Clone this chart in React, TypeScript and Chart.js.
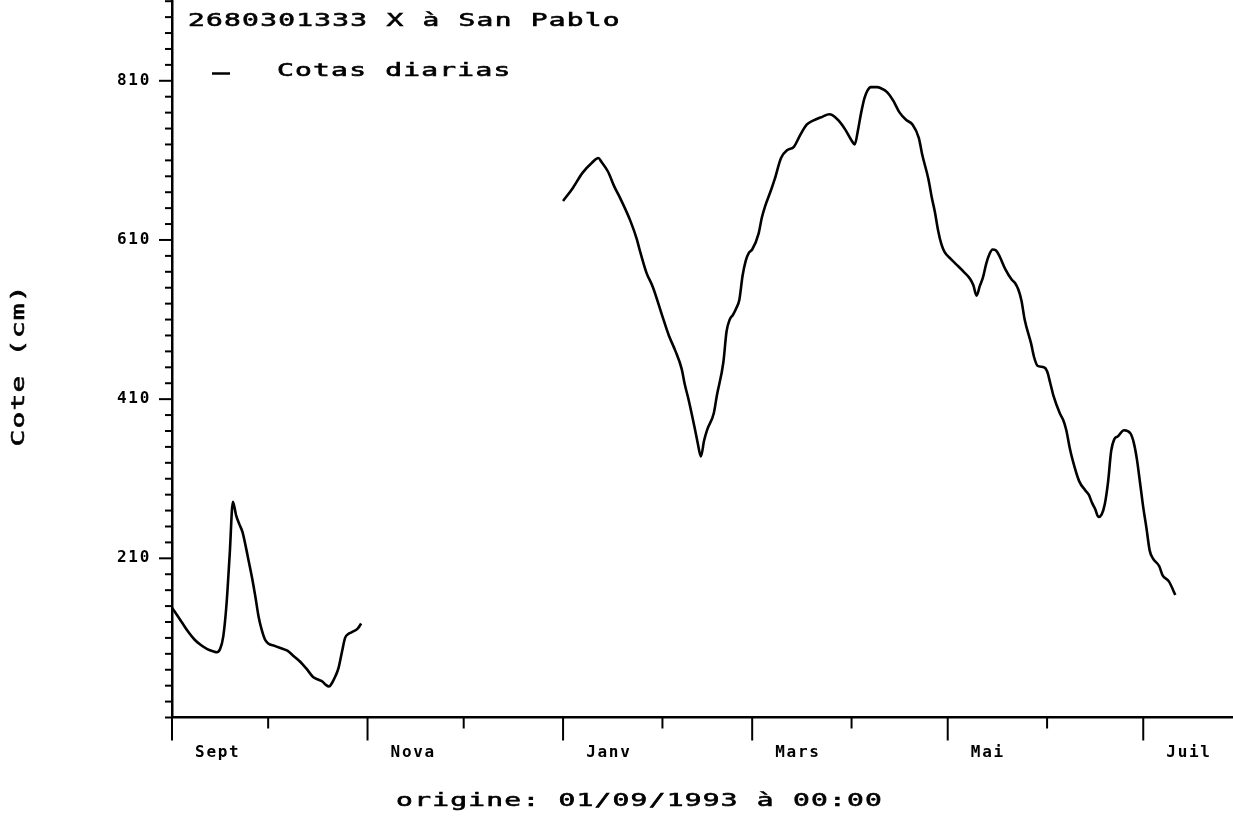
import React, { useEffect, useRef } from 'react';
import { Chart, registerables } from 'chart.js';

Chart.register(...registerables);

// ---- texts ----
const TITLE = '2680301333 X à San Pablo';
const SERIES_LABEL = 'Cotas diarias';
const Y_AXIS_TITLE = 'Cote (cm)';
const ORIGIN_TEXT = 'origine: 01/09/1993 à 00:00';

// ---- axis ticks (x in days since 01/09/1993) ----
const MONTH_START_DAYS = [0, 30, 61, 91, 122, 153, 181, 212, 242, 273, 303];
const MONTH_LABELS = ['Sept', 'Nova', 'Janv', 'Mars', 'Mai', 'Juil'];
const Y_LABELS = [210, 410, 610, 810];
const Y_MIN = 10;
const Y_MAX = 910;
const Y_STEP = 20;
const X_MIN = 0;
const X_MAX = 331;

// ---- series: daily water level (cm) ----
const DAYS_1 = [0, 3, 5, 7, 9, 11, 13, 14, 15, 16, 17, 18, 19, 20, 21, 22, 23, 24, 25, 26, 27, 28, 29, 30, 32, 34, 36, 38, 40, 42, 44, 46, 47, 48, 49, 50, 51, 52, 53, 54, 55, 56, 58, 59];
const COTAS_1 = [148, 130, 118, 108, 101, 96, 93, 92, 96, 112, 152, 215, 281, 264, 253, 243, 225, 205, 185, 162, 137, 120, 108, 103, 100, 97, 94, 87, 80, 71, 61, 57, 55, 51, 49, 54, 62, 73, 92, 110, 115, 117, 122, 128];

const DAYS_2 = [122, 125, 128, 131, 133, 134, 136, 138, 140, 143, 145, 146, 148, 150, 153, 155, 157, 159, 160, 161, 163, 164, 165, 166, 167, 169, 170, 172, 173, 174, 175, 176, 177, 178, 179, 180, 181, 183, 184, 185, 187, 188, 190, 192, 194, 196, 198, 200, 203, 205, 206, 208, 210, 212, 213, 214, 215, 216, 217, 218, 220, 221, 223, 225, 227, 229, 231, 233, 234, 236, 237, 238, 239, 240, 241, 243, 245, 247, 249, 250, 251, 252, 253, 254, 255, 256, 257, 258, 260, 262, 263, 264, 265, 266, 268, 269, 270, 272, 273, 274, 275, 277, 278, 279, 280, 281, 283, 285, 286, 287, 288, 289, 290, 291, 292, 293, 294, 295, 297, 299, 300, 301, 302, 303, 304, 305, 306, 308, 309, 311, 313];
const COTAS_2 = [659, 675, 694, 707, 713, 708, 696, 677, 661, 634, 611, 596, 569, 551, 514, 490, 471, 448, 428, 412, 375, 355, 338, 358, 372, 392, 415, 456, 495, 510, 516, 524, 535, 565, 584, 594, 598, 618, 638, 652, 674, 686, 713, 723, 727, 742, 755, 760, 765, 768, 767, 760, 749, 735, 730, 748, 770, 788, 798, 802, 802, 801, 796, 785, 770, 761, 755, 738, 718, 686, 664, 645, 622, 605, 595, 586, 578, 570, 561, 553, 540, 552, 563, 580, 592, 598, 597, 591, 573, 560, 556, 548, 534, 510, 480, 462, 452, 450, 445, 430, 414, 392, 384, 371, 350, 333, 307, 295, 290, 280, 272, 262, 265, 278, 305, 345, 360, 363, 371, 367, 356, 335, 305, 274, 248, 220, 210, 200, 189, 181, 164];

// ---- style ----
const INK = '#000000';
const PLOT_FONT = '"DejaVu Sans Mono"';
const LABEL_SHIFT_DAYS = 7.2;

function drawText(
  ctx: CanvasRenderingContext2D,
  text: string,
  x: number,
  y: number,
  o: { size: number; sx: number; ls: number; align: CanvasTextAlign; rotate?: number; bold?: boolean }
) {
  ctx.save();
  ctx.translate(x, y);
  if (o.rotate) ctx.rotate(o.rotate);
  ctx.scale(o.sx, 1);
  ctx.font = `${o.bold ? 'bold ' : ''}${o.size}px ${PLOT_FONT}`;
  (ctx as any).letterSpacing = `${o.ls}px`;
  ctx.textAlign = o.align;
  ctx.textBaseline = 'middle';
  ctx.fillStyle = INK;
  ctx.strokeStyle = INK;
  ctx.lineWidth = 0.6;
  const dx = o.align === 'center' ? o.ls / 2 : 0;
  ctx.fillText(text, dx, 0);
  ctx.strokeText(text, dx, 0);
  ctx.restore();
}

const decorPlugin = {
  id: 'plotterDecor',
  beforeDraw(chart: any) {
    (chart.ctx as any).letterSpacing = '1.7px';
  },
  afterDraw(chart: any) {
    const ctx: CanvasRenderingContext2D = chart.ctx;
    (ctx as any).letterSpacing = '0px';
    const xs = chart.scales.x;
    const ys = chart.scales.y;
    ctx.save();
    ctx.strokeStyle = INK;
    ctx.lineWidth = 2;
    // y tick marks
    for (let v = Y_MIN; v <= Y_MAX; v += Y_STEP) {
      const py = ys.getPixelForValue(v);
      const len = Y_LABELS.includes(v) ? 13 : 7;
      ctx.beginPath();
      ctx.moveTo(ys.right - len, py);
      ctx.lineTo(ys.right, py);
      ctx.stroke();
    }
    // x tick marks
    MONTH_START_DAYS.forEach((d, i) => {
      const px = xs.getPixelForValue(d);
      const len = i % 2 === 0 ? 23 : 11;
      ctx.beginPath();
      ctx.moveTo(px, xs.top);
      ctx.lineTo(px, xs.top + len);
      ctx.stroke();
    });
    // legend sample
    ctx.lineWidth = 2.5;
    ctx.beginPath();
    ctx.moveTo(212, 73.5);
    ctx.lineTo(230, 73.5);
    ctx.stroke();
    ctx.restore();

    const big = { size: 18, sx: 1.55, ls: 0.8 };
    drawText(ctx, TITLE, 188, 21, { ...big, align: 'left' });
    drawText(ctx, SERIES_LABEL, 277, 71, { ...big, align: 'left' });
    drawText(ctx, Y_AXIS_TITLE, 19, 366, { ...big, align: 'center', rotate: -Math.PI / 2 });
    drawText(ctx, ORIGIN_TEXT, 639, 801, { ...big, align: 'center' });
  },
};

export default function App() {
  const canvasRef = useRef<HTMLCanvasElement | null>(null);

  useEffect(() => {
    if (!canvasRef.current) return;
    const points: { x: number; y: number | null }[] = [];
    DAYS_1.forEach((d, i) => points.push({ x: d, y: COTAS_1[i] }));
    points.push({ x: (DAYS_1[DAYS_1.length - 1] + DAYS_2[0]) / 2, y: null });
    DAYS_2.forEach((d, i) => points.push({ x: d, y: COTAS_2[i] }));

    const xTickFont = { family: PLOT_FONT, size: 16, weight: 'bold' as const };
    const yTickFont = { family: PLOT_FONT, size: 16, weight: 'bold' as const, lineHeight: 0.15 };

    const chart = new Chart(canvasRef.current, {
      type: 'line',
      data: {
        datasets: [
          {
            label: SERIES_LABEL,
            data: points as any,
            borderColor: INK,
            borderWidth: 2.6,
            pointRadius: 0,
            fill: false,
            spanGaps: false,
            cubicInterpolationMode: 'monotone',
          },
        ],
      },
      options: {
        animation: false,
        responsive: false,
        layout: { padding: { top: 0, right: 0, bottom: 0, left: 0 } },
        plugins: {
          legend: { display: false },
          title: { display: false },
          tooltip: { enabled: false },
        },
        scales: {
          x: {
            type: 'linear',
            min: X_MIN,
            max: X_MAX,
            afterFit: (s: any) => {
              s.height = 104.5;
            },
            afterBuildTicks: (s: any) => {
              s.ticks = MONTH_LABELS.map((_, i) => ({ value: MONTH_START_DAYS[i * 2] + LABEL_SHIFT_DAYS }));
            },
            grid: {
              display: true,
              drawOnChartArea: false,
              drawTicks: true,
              tickLength: 26,
              tickColor: 'rgba(0,0,0,0)',
            },
            border: { display: true, color: INK, width: 2.5 },
            ticks: {
              autoSkip: false,
              maxRotation: 0,
              padding: 0,
              align: 'start',
              color: INK,
              font: xTickFont,
              callback: (_v: any, i: number) => MONTH_LABELS[i],
            },
          },
          y: {
            type: 'linear',
            min: Y_MIN,
            max: Y_MAX,
            afterFit: (s: any) => {
              s.width = 172;
            },
            grid: {
              display: true,
              drawOnChartArea: false,
              drawTicks: true,
              tickLength: 21,
              tickColor: 'rgba(0,0,0,0)',
            },
            border: { display: true, color: INK, width: 2.5 },
            ticks: {
              stepSize: Y_STEP,
              autoSkip: false,
              padding: 0,
              color: INK,
              font: yTickFont,
              callback: (v: any) => (Y_LABELS.includes(Number(v)) ? String(v) : null),
            },
          },
        },
      },
      plugins: [decorPlugin],
    });
    return () => chart.destroy();
  }, []);

  return (
    <canvas
      ref={canvasRef}
      width={1233}
      height={822}
      style={{ position: 'fixed', left: 0, top: 0, width: 1233, height: 822, background: '#ffffff' }}
    />
  );
}
